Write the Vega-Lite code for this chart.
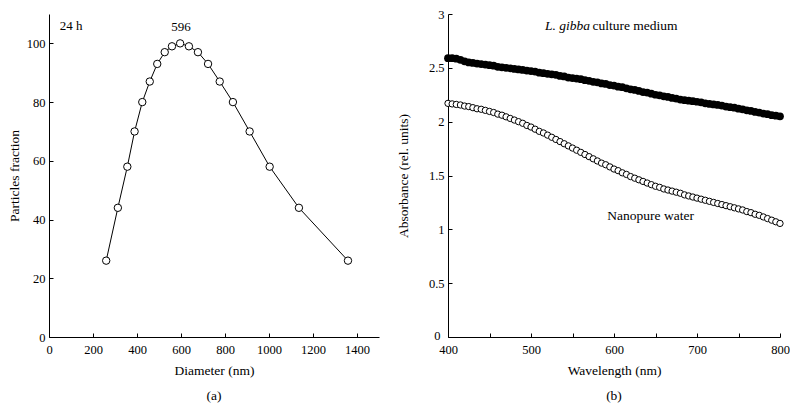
{
  "$schema": "https://vega.github.io/schema/vega-lite/v6.json",
  "background": "white",
  "padding": {"left": 7, "top": 8, "right": 0, "bottom": 0},
  "spacing": 17,
  "config": {
    "font": "Liberation Serif",
    "view": {"stroke": null},
    "axis": {
      "grid": false,
      "domainColor": "black",
      "tickColor": "black",
      "labelColor": "black",
      "titleColor": "black",
      "labelFont": "Liberation Serif",
      "titleFont": "Liberation Serif",
      "labelFontSize": 12.5,
      "titleFontSize": 13.5,
      "titleFontWeight": "normal",
      "tickSize": -4,
      "labelPadding": 8,
      "labelFlush": false,
      "labelOverlap": false,
      "domainWidth": 1,
      "tickWidth": 1
    },
    "axisX": {"labelPadding": 10},
    "title": {"font": "Liberation Serif", "fontSize": 13.5, "fontWeight": "normal", "color": "black"}
  },
  "hconcat": [
    {
      "width": 330,
      "height": 323,
      "title": {"text": "(a)", "orient": "bottom", "offset": 12},
      "data": {"values": [
        {"d": 260, "f": 26}, {"d": 313, "f": 44}, {"d": 356, "f": 58}, {"d": 389, "f": 70},
        {"d": 424, "f": 80}, {"d": 458, "f": 87}, {"d": 492, "f": 93}, {"d": 526, "f": 97},
        {"d": 559, "f": 99}, {"d": 596, "f": 100}, {"d": 636, "f": 99}, {"d": 677, "f": 97},
        {"d": 723, "f": 93}, {"d": 776, "f": 87}, {"d": 836, "f": 80}, {"d": 912, "f": 70},
        {"d": 1003, "f": 58}, {"d": 1136, "f": 44}, {"d": 1359, "f": 26}
      ]},
      "layer": [
        {
          "mark": {"type": "line", "color": "black", "strokeWidth": 1},
          "encoding": {
            "x": {"field": "d", "type": "quantitative", "scale": {"domain": [0, 1500], "nice": false},
              "axis": {"title": "Diameter (nm)", "values": [0,100,200,300,400,500,600,700,800,900,1000,1100,1200,1300,1400,1500],
                "labelExpr": "datum.value % 200 == 0 && datum.value <= 1400 ? datum.label : ''", "format": "d", "titlePadding": 8}},
            "y": {"field": "f", "type": "quantitative", "scale": {"domain": [0, 110], "nice": false},
              "axis": {"title": "Particles fraction", "values": [0,10,20,30,40,50,60,70,80,90,100,110],
                "labelExpr": "datum.value % 20 == 0 && datum.value <= 100 ? datum.label : ''", "format": "d", "titlePadding": 5}}
          }
        },
        {
          "mark": {"type": "point", "shape": "circle", "filled": true, "fill": "white", "stroke": "black", "strokeWidth": 1, "size": 55, "opacity": 1},
          "encoding": {
            "x": {"field": "d", "type": "quantitative"},
            "y": {"field": "f", "type": "quantitative"}
          }
        },
        {
          "data": {"values": [{"x": 100, "y": 106, "t": "24 h"}, {"x": 600, "y": 105.5, "t": "596"}]},
          "mark": {"type": "text", "font": "Liberation Serif", "fontSize": 13, "color": "black", "align": "center", "baseline": "middle"},
          "encoding": {
            "x": {"field": "x", "type": "quantitative"},
            "y": {"field": "y", "type": "quantitative"},
            "text": {"field": "t"}
          }
        }
      ]
    },
    {
      "width": 332,
      "height": 323,
      "title": {"text": "(b)", "orient": "bottom", "offset": 12},
      "data": {"values": [
        {"w":400,"a":2.59,"b":2.17},{"w":405,"a":2.59,"b":2.165},{"w":410,"a":2.585,"b":2.16},{"w":415,"a":2.575,"b":2.155},
        {"w":420,"a":2.56,"b":2.145},{"w":425,"a":2.55,"b":2.14},{"w":430,"a":2.545,"b":2.13},{"w":435,"a":2.54,"b":2.12},
        {"w":440,"a":2.535,"b":2.115},{"w":445,"a":2.53,"b":2.105},{"w":450,"a":2.525,"b":2.095},{"w":455,"a":2.52,"b":2.085},
        {"w":460,"a":2.51,"b":2.07},{"w":465,"a":2.505,"b":2.06},{"w":470,"a":2.5,"b":2.045},{"w":475,"a":2.495,"b":2.03},
        {"w":480,"a":2.49,"b":2.015},{"w":485,"a":2.485,"b":2.0},{"w":490,"a":2.48,"b":1.985},{"w":495,"a":2.475,"b":1.965},
        {"w":500,"a":2.47,"b":1.95},{"w":505,"a":2.465,"b":1.93},{"w":510,"a":2.455,"b":1.91},{"w":515,"a":2.45,"b":1.895},
        {"w":520,"a":2.445,"b":1.875},{"w":525,"a":2.44,"b":1.855},{"w":530,"a":2.435,"b":1.835},{"w":535,"a":2.425,"b":1.815},
        {"w":540,"a":2.42,"b":1.795},{"w":545,"a":2.41,"b":1.775},{"w":550,"a":2.405,"b":1.755},{"w":555,"a":2.4,"b":1.735},
        {"w":560,"a":2.395,"b":1.715},{"w":565,"a":2.385,"b":1.695},{"w":570,"a":2.38,"b":1.675},{"w":575,"a":2.37,"b":1.655},
        {"w":580,"a":2.365,"b":1.635},{"w":585,"a":2.355,"b":1.615},{"w":590,"a":2.35,"b":1.6},{"w":595,"a":2.34,"b":1.58},
        {"w":600,"a":2.335,"b":1.56},{"w":605,"a":2.325,"b":1.545},{"w":610,"a":2.32,"b":1.525},{"w":615,"a":2.31,"b":1.51},
        {"w":620,"a":2.3,"b":1.49},{"w":625,"a":2.295,"b":1.475},{"w":630,"a":2.285,"b":1.46},{"w":635,"a":2.275,"b":1.445},
        {"w":640,"a":2.27,"b":1.43},{"w":645,"a":2.26,"b":1.415},{"w":650,"a":2.25,"b":1.4},{"w":655,"a":2.245,"b":1.39},
        {"w":660,"a":2.235,"b":1.375},{"w":665,"a":2.23,"b":1.365},{"w":670,"a":2.22,"b":1.355},{"w":675,"a":2.215,"b":1.345},
        {"w":680,"a":2.205,"b":1.335},{"w":685,"a":2.2,"b":1.32},{"w":690,"a":2.195,"b":1.31},{"w":695,"a":2.19,"b":1.3},
        {"w":700,"a":2.185,"b":1.29},{"w":705,"a":2.18,"b":1.28},{"w":710,"a":2.17,"b":1.27},{"w":715,"a":2.165,"b":1.26},
        {"w":720,"a":2.16,"b":1.25},{"w":725,"a":2.155,"b":1.24},{"w":730,"a":2.15,"b":1.23},{"w":735,"a":2.14,"b":1.22},
        {"w":740,"a":2.135,"b":1.21},{"w":745,"a":2.13,"b":1.2},{"w":750,"a":2.12,"b":1.19},{"w":755,"a":2.115,"b":1.18},
        {"w":760,"a":2.105,"b":1.165},{"w":765,"a":2.1,"b":1.155},{"w":770,"a":2.09,"b":1.14},{"w":775,"a":2.085,"b":1.13},
        {"w":780,"a":2.075,"b":1.115},{"w":785,"a":2.07,"b":1.1},{"w":790,"a":2.06,"b":1.085},{"w":795,"a":2.055,"b":1.07},
        {"w":800,"a":2.05,"b":1.055}
      ]},
      "layer": [
        {
          "mark": {"type": "point", "shape": "circle", "filled": true, "fill": "black", "strokeWidth": 0, "size": 60, "opacity": 1},
          "encoding": {
            "x": {"field": "w", "type": "quantitative", "scale": {"domain": [400, 800], "nice": false, "zero": false},
              "axis": {"title": "Wavelength (nm)", "values": [400,450,500,550,600,650,700,750,800],
                "labelExpr": "datum.value % 100 == 0 ? datum.label : ''", "format": "d", "titlePadding": 8}},
            "y": {"field": "a", "type": "quantitative", "scale": {"domain": [0, 3], "nice": false},
              "axis": {"title": "Absorbance (rel. units)", "values": [0,0.25,0.5,0.75,1,1.25,1.5,1.75,2,2.25,2.5,2.75,3],
                "labelExpr": "datum.value % 0.5 == 0 ? datum.label : ''", "format": "~g", "titlePadding": 18,
                "labelPadding": {"condition": {"test": "datum.value == 0", "value": 12}, "value": 8},
                "labelOffset": {"condition": {"test": "datum.value == 0", "value": -2}, "value": 0}}}
          }
        },
        {
          "mark": {"type": "point", "shape": "circle", "filled": true, "fill": "white", "stroke": "black", "strokeWidth": 1, "size": 40, "opacity": 1},
          "encoding": {
            "x": {"field": "w", "type": "quantitative"},
            "y": {"field": "b", "type": "quantitative"}
          }
        },
        {
          "data": {"values": [{"x": 571, "y": 2.89, "t": "L. gibba"}]},
          "mark": {"type": "text", "font": "Liberation Serif", "fontSize": 13.5, "fontStyle": "italic", "color": "black", "align": "right", "baseline": "middle"},
          "encoding": {
            "x": {"field": "x", "type": "quantitative"},
            "y": {"field": "y", "type": "quantitative"},
            "text": {"field": "t"}
          }
        },
        {
          "data": {"values": [{"x": 574, "y": 2.89, "t": "culture medium"}, {"x": 592, "y": 1.12, "t": "Nanopure water"}]},
          "mark": {"type": "text", "font": "Liberation Serif", "fontSize": 13.5, "color": "black", "align": "left", "baseline": "middle"},
          "encoding": {
            "x": {"field": "x", "type": "quantitative"},
            "y": {"field": "y", "type": "quantitative"},
            "text": {"field": "t"}
          }
        }
      ]
    }
  ]
}
